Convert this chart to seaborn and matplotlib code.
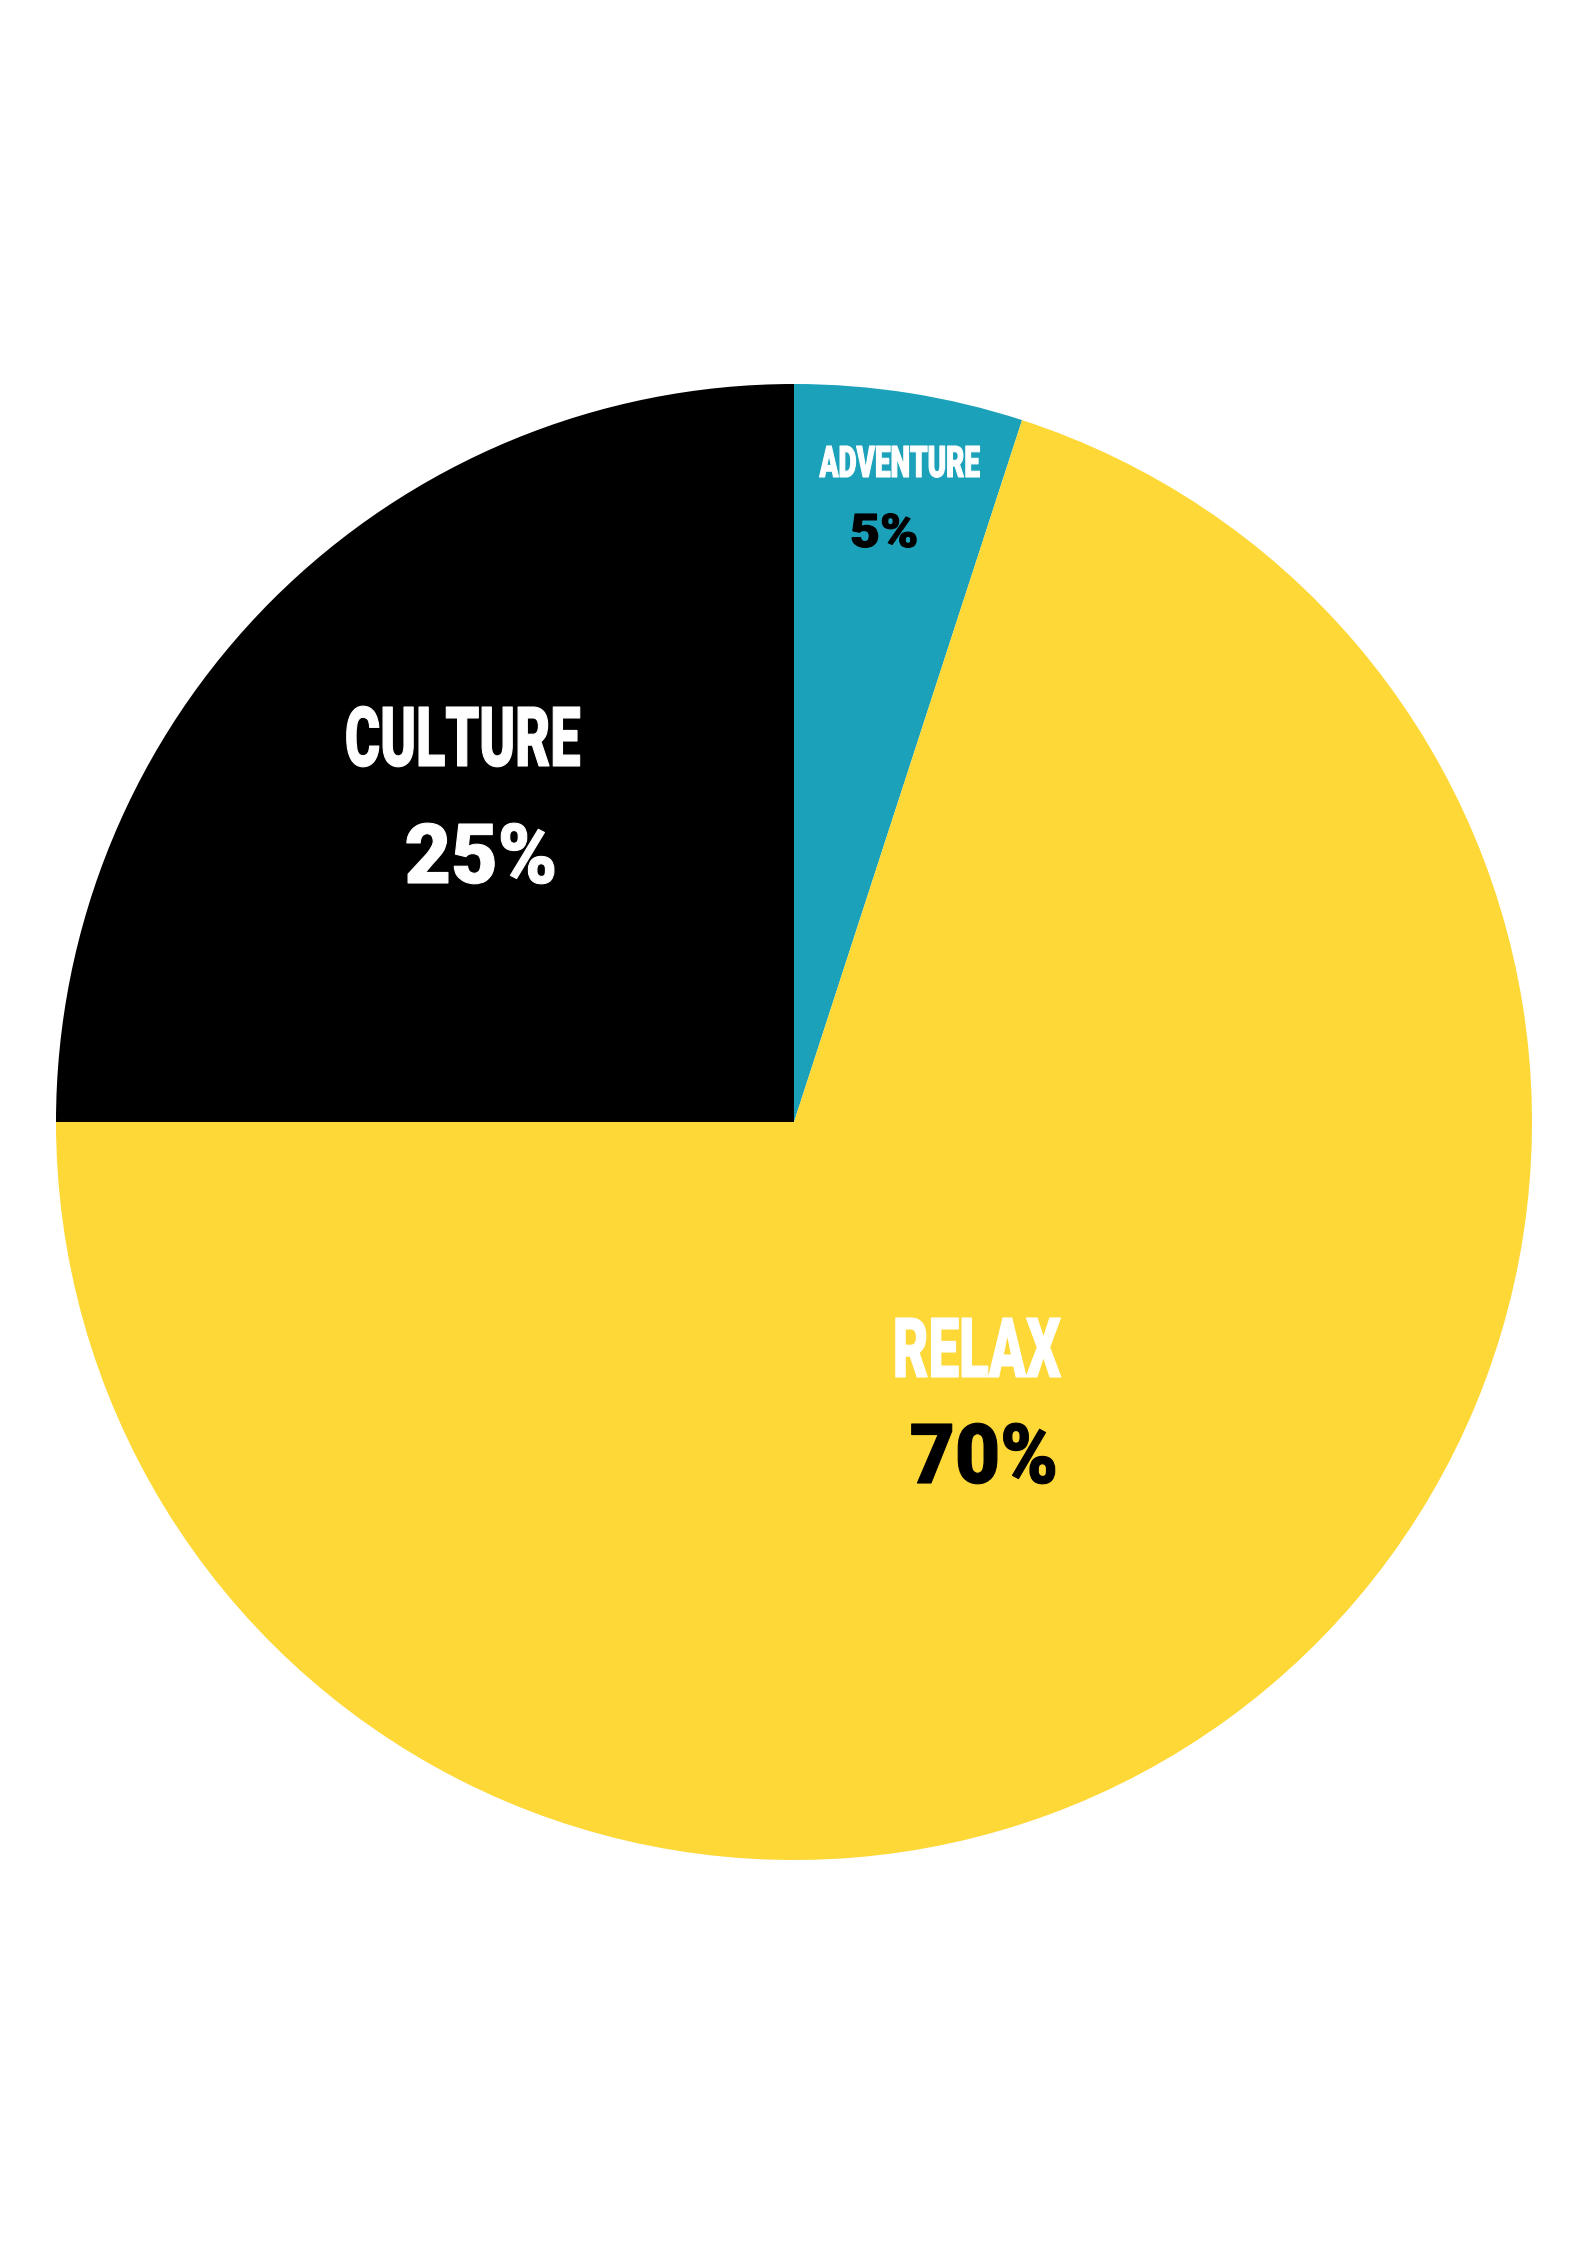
import matplotlib
matplotlib.use("Agg")
import matplotlib.pyplot as plt
import seaborn as sns
from matplotlib.patheffects import AbstractPathEffect
from matplotlib.transforms import Affine2D
from matplotlib.textpath import TextPath
from matplotlib.font_manager import FontProperties

categories = ["ADVENTURE", "RELAX", "CULTURE"]
values = [5, 70, 25]
pct_labels = ["5%", "70%", "25%"]
colors = ["#1BA1B9", "#FDD837", "#000000"]

sns.set_theme(style="white")
plt.rcParams['font.family'] = ['Roboto', 'DejaVu Sans']
FP = FontProperties(family=['Roboto', 'DejaVu Sans'], weight='black')


class Condense(AbstractPathEffect):
    """Horizontally condense glyphs (keeps the text a real Text artist)."""

    def __init__(self, sx, lw=0.0):
        super().__init__()
        self.sx = sx
        self.lw = lw

    def draw_path(self, renderer, gc, tpath, affine, rgbFace=None):
        v = tpath.vertices
        mx = (v[:, 0].min() + v[:, 0].max()) / 2 if len(v) else 0
        t = Affine2D().translate(-mx, 0).scale(self.sx, 1).translate(mx, 0) + affine
        gc0 = renderer.new_gc()
        gc0.copy_properties(gc)
        if self.lw > 0 and rgbFace is not None:
            gc0.set_linewidth(self.lw)
            gc0.set_foreground(rgbFace)
        else:
            gc0.set_linewidth(0)
        renderer.draw_path(gc0, tpath, t, rgbFace)
        gc0.restore()


def fit(s, w_px, h_px):
    cap = TextPath((0, 0), "H", size=100, prop=FP).get_extents().height
    size_px = 100 * h_px / cap
    ink_w = TextPath((0, 0), s, size=size_px, prop=FP).get_extents().width
    return size_px * 72 / 100, w_px / ink_w


W, H = 1587, 2245
fig = plt.figure(figsize=(W / 100, H / 100), dpi=100)
ax = fig.add_axes([0, 0, 1, 1])

cx, cy, r = 794, H - 1122, 738
ax.pie(values, colors=colors, startangle=90, counterclock=False,
       center=(cx, cy), radius=r, frame=True,
       wedgeprops=dict(linewidth=0))
ax.set_xlim(0, W)
ax.set_ylim(0, H)
ax.set_aspect("equal")
ax.axis("off")

# label layout (image pixels: centre x, baseline y, ink width, cap height)
name_pos = [(900, 477), (977, 1377), (463, 766)]
pct_pos = [(884, 547), (984, 1483), (481, 883)]
name_box = [(160, 31), (165, 59), (233, 59)]
pct_box = [(64, 33), (143, 59), (147, 59)]
name_col = ["white", "white", "white"]
pct_col = ["black", "black", "white"]

for i in range(len(categories)):
    for txt, (x, y), (bw, bh), col in (
            (categories[i], name_pos[i], name_box[i], name_col[i]),
            (pct_labels[i], pct_pos[i], pct_box[i], pct_col[i])):
        fs, sx = fit(txt, bw, bh)
        ax.text(x, H - y, txt, ha="center", va="baseline",
                fontproperties=FP, fontsize=fs, color=col,
                path_effects=[Condense(sx, lw=0.8)])

fig.savefig("out.png", dpi=100, facecolor="white")
